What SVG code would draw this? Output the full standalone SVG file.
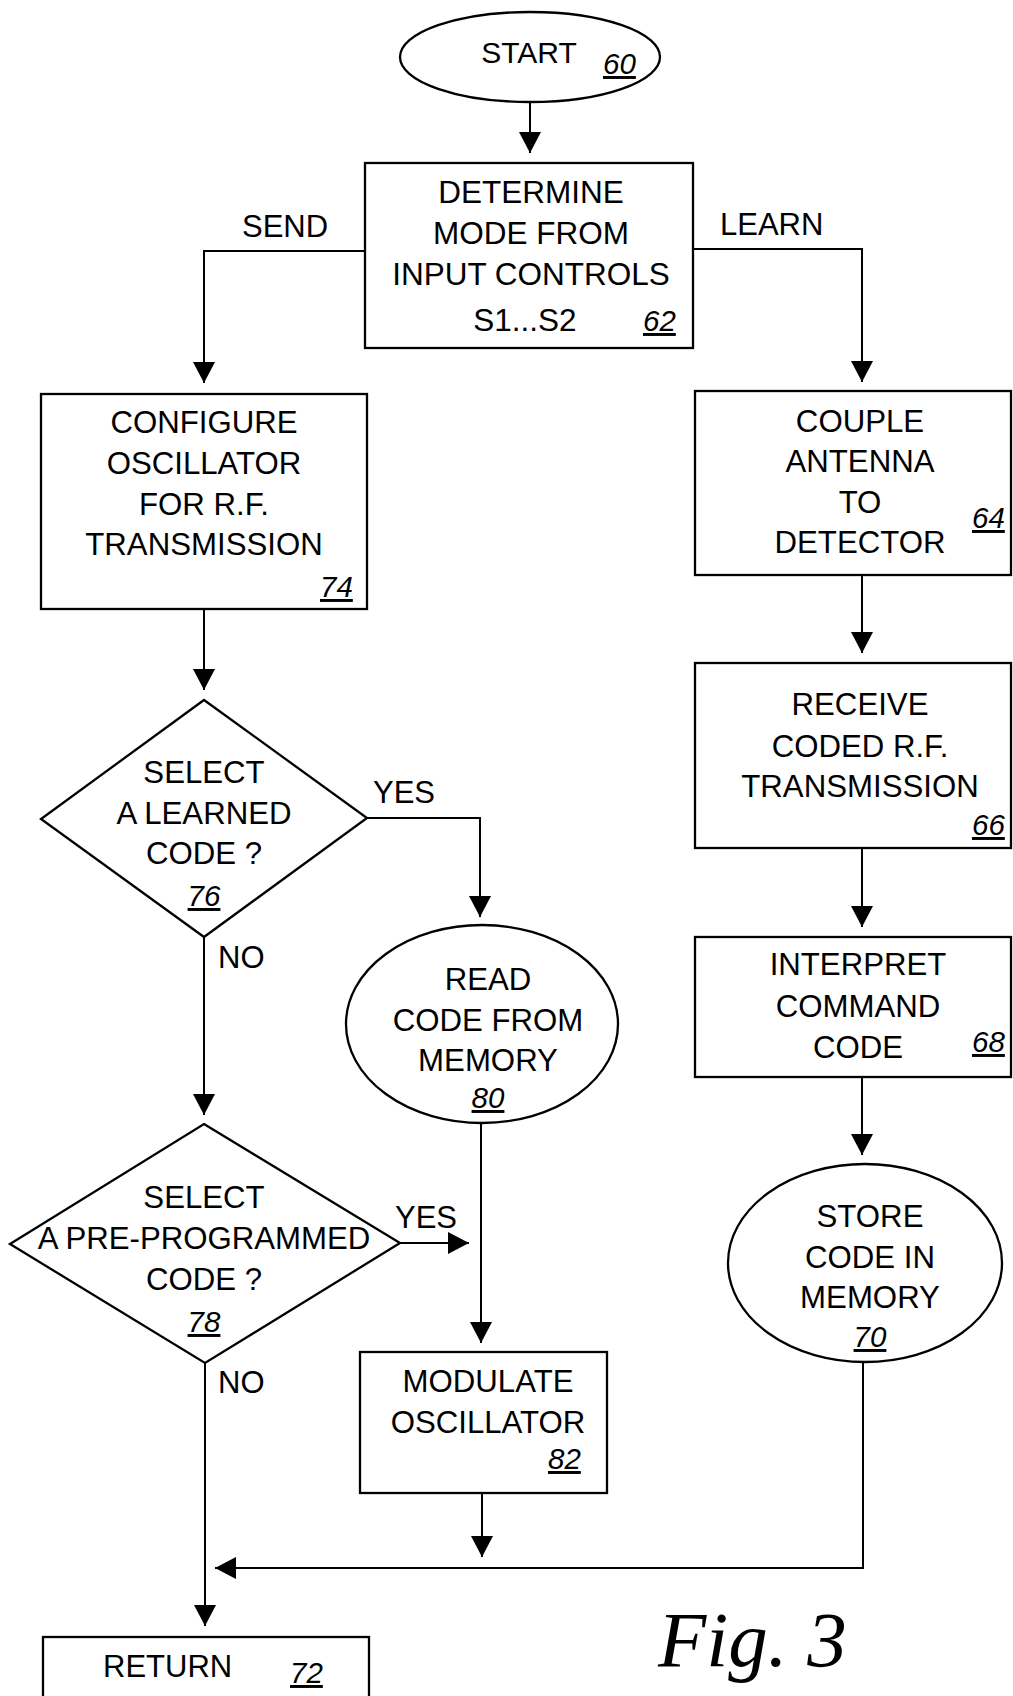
<svg xmlns="http://www.w3.org/2000/svg" width="1013" height="1696" viewBox="0 0 1013 1696">
<style>
.shape{fill:#fff;stroke:#000;stroke-width:2.3}
.conn{fill:none;stroke:#000;stroke-width:2}
.t{font-family:"Liberation Sans",Arial,sans-serif;font-size:31.2px;fill:#000;text-anchor:middle}
.l{font-family:"Liberation Sans",Arial,sans-serif;font-size:31px;fill:#000}
.n{font-family:"Liberation Sans",Arial,sans-serif;font-size:29.5px;font-style:italic;fill:#000;text-decoration:underline}
.fig{font-family:"Liberation Serif","Times New Roman",serif;font-size:79px;font-style:italic;fill:#000}
</style>
<defs>
<marker id="arr" viewBox="0 0 21 22" refX="21" refY="11" markerWidth="21" markerHeight="22" markerUnits="userSpaceOnUse" orient="auto">
<path d="M0,0 L21,11 L0,22 z" fill="#000"/>
</marker>
</defs>
<rect width="1013" height="1696" fill="#fff"/>

<g id="connectors">
<path class="conn" d="M530,102 V153" marker-end="url(#arr)"/>
<path class="conn" d="M365,251 H204 V383" marker-end="url(#arr)"/>
<path class="conn" d="M693,249 H862 V382" marker-end="url(#arr)"/>
<path class="conn" d="M862,575 V653" marker-end="url(#arr)"/>
<path class="conn" d="M862,848 V927" marker-end="url(#arr)"/>
<path class="conn" d="M862,1077 V1155" marker-end="url(#arr)"/>
<path class="conn" d="M204,609 V690" marker-end="url(#arr)"/>
<path class="conn" d="M367,818 H480 V917" marker-end="url(#arr)"/>
<path class="conn" d="M204,937 V1115" marker-end="url(#arr)"/>
<path class="conn" d="M400,1243 H469" marker-end="url(#arr)"/>
<path class="conn" d="M481,1124 V1343" marker-end="url(#arr)"/>
<path class="conn" d="M205,1363 V1626" marker-end="url(#arr)"/>
<path class="conn" d="M482,1493 V1557" marker-end="url(#arr)"/>
<path class="conn" d="M863,1362 V1568 H215" marker-end="url(#arr)"/>
<text class="l" x="242" y="237">SEND</text>
<text class="l" x="720" y="235">LEARN</text>
<text class="l" x="373" y="803">YES</text>
<text class="l" x="218" y="968">NO</text>
<text class="l" x="395" y="1228">YES</text>
<text class="l" x="218" y="1393">NO</text>
</g>

<g id="n60">
<ellipse class="shape" cx="530" cy="57" rx="130" ry="45"/>
<text class="t" x="529" y="63" style="font-size:30px">START</text>
<text class="n" x="603" y="74">60</text>
</g>

<g id="n62">
<rect class="shape" x="365" y="163" width="328" height="185"/>
<text class="t" x="531" y="203" style="font-size:31.5px">DETERMINE</text>
<text class="t" x="531" y="244" style="font-size:31.5px">MODE FROM</text>
<text class="t" x="531" y="285" style="font-size:31.5px">INPUT CONTROLS</text>
<text class="t" x="525" y="331" style="font-size:31.5px">S1...S2</text>
<text class="n" x="643" y="331">62</text>
</g>

<g id="n74">
<rect class="shape" x="41" y="394" width="326" height="215"/>
<text class="t" x="204" y="433">CONFIGURE</text>
<text class="t" x="204" y="474">OSCILLATOR</text>
<text class="t" x="204" y="515">FOR R.F.</text>
<text class="t" x="204" y="555">TRANSMISSION</text>
<text class="n" x="320" y="597">74</text>
</g>

<g id="n64">
<rect class="shape" x="695" y="391" width="316" height="184"/>
<text class="t" x="860" y="432">COUPLE</text>
<text class="t" x="860" y="472">ANTENNA</text>
<text class="t" x="860" y="513">TO</text>
<text class="t" x="860" y="553">DETECTOR</text>
<text class="n" x="972" y="528">64</text>
</g>

<g id="n66">
<rect class="shape" x="695" y="663" width="316" height="185"/>
<text class="t" x="860" y="715">RECEIVE</text>
<text class="t" x="860" y="757">CODED R.F.</text>
<text class="t" x="860" y="797">TRANSMISSION</text>
<text class="n" x="972" y="835">66</text>
</g>

<g id="n68">
<rect class="shape" x="695" y="937" width="316" height="140"/>
<text class="t" x="858" y="975">INTERPRET</text>
<text class="t" x="858" y="1017">COMMAND</text>
<text class="t" x="858" y="1058">CODE</text>
<text class="n" x="972" y="1052">68</text>
</g>

<g id="n70">
<ellipse class="shape" cx="865" cy="1263" rx="137" ry="99"/>
<text class="t" x="870" y="1227">STORE</text>
<text class="t" x="870" y="1268">CODE IN</text>
<text class="t" x="870" y="1308">MEMORY</text>
<text class="n" x="870" y="1347" style="text-anchor:middle">70</text>
</g>

<g id="n76">
<polygon class="shape" points="204,700 367,818 204,937 41,819"/>
<text class="t" x="204" y="783">SELECT</text>
<text class="t" x="204" y="824">A LEARNED</text>
<text class="t" x="204" y="864">CODE ?</text>
<text class="n" x="204" y="906" style="text-anchor:middle">76</text>
</g>

<g id="n80">
<ellipse class="shape" cx="482" cy="1024" rx="136" ry="99"/>
<text class="t" x="488" y="990">READ</text>
<text class="t" x="488" y="1031">CODE FROM</text>
<text class="t" x="488" y="1071">MEMORY</text>
<text class="n" x="488" y="1108" style="text-anchor:middle">80</text>
</g>

<g id="n78">
<polygon class="shape" points="204,1124 400,1243 205,1363 10,1244"/>
<text class="t" x="204" y="1208">SELECT</text>
<text class="t" x="204" y="1249">A PRE-PROGRAMMED</text>
<text class="t" x="204" y="1290">CODE ?</text>
<text class="n" x="204" y="1332" style="text-anchor:middle">78</text>
</g>

<g id="n82">
<rect class="shape" x="360" y="1352" width="247" height="141"/>
<text class="t" x="488" y="1392">MODULATE</text>
<text class="t" x="488" y="1433">OSCILLATOR</text>
<text class="n" x="548" y="1469">82</text>
</g>

<g id="n72">
<rect class="shape" x="43" y="1637" width="326" height="80"/>
<text class="l" x="103" y="1677">RETURN</text>
<text class="n" x="290" y="1683">72</text>
</g>

<text class="fig" x="658" y="1666">Fig. 3</text>
</svg>
